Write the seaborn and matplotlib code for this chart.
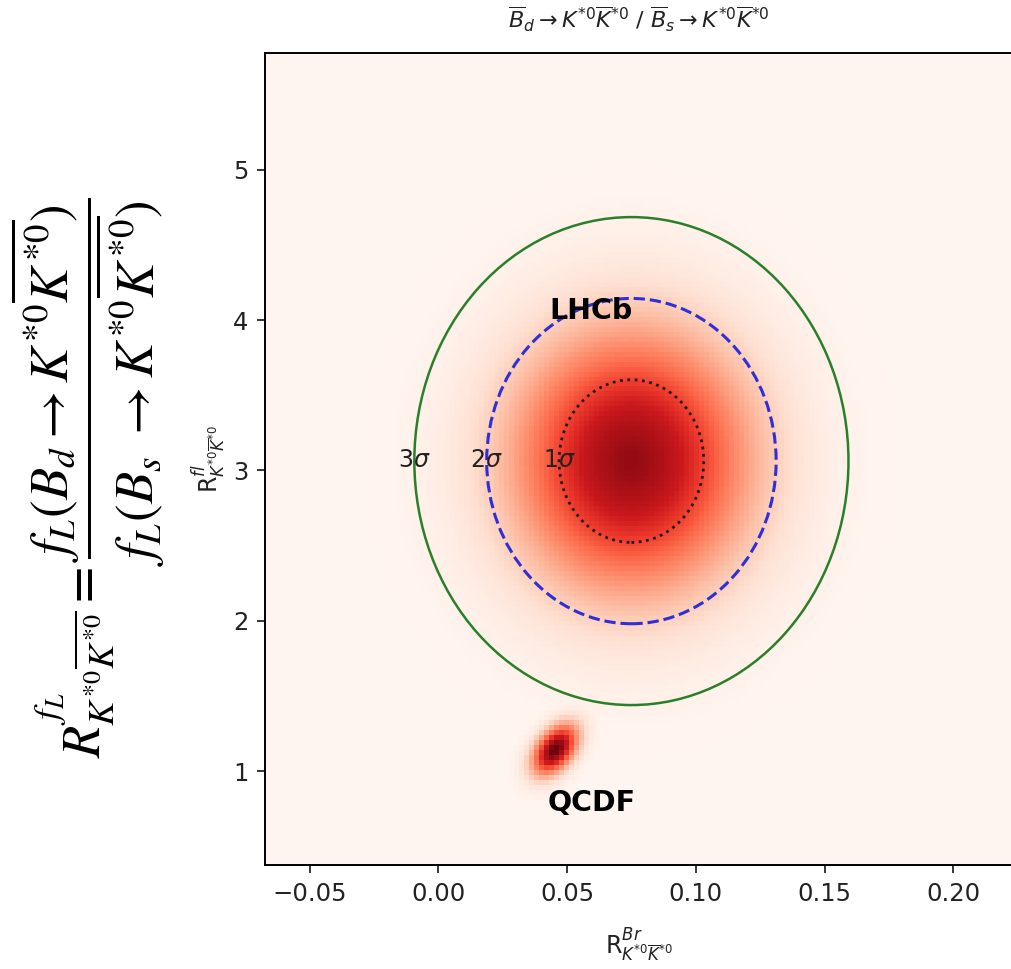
import numpy as np
import pandas as pd
import matplotlib
matplotlib.use("Agg")
import matplotlib.pyplot as plt
from matplotlib.patches import Ellipse
import seaborn as sns

# ---------------- data ----------------
# Gaussian-like probability blobs (LHCb measurement, QCDF prediction)
blob_names = ["LHCb", "QCDF"]
blob_center_x = [0.0750, 0.0455]
blob_center_y = [3.062, 1.140]
blob_sigma_x = [0.0315, 0.0060]
blob_sigma_y = [0.600, 0.115]
blob_rho = [0.0, 0.45]
blob_peak = [0.90, 1.0]

# sigma contour levels around the LHCb measurement
ellipse_center = (0.0750, 3.062)
ellipse_sigma_x = 0.0281
ellipse_sigma_y = 0.541
sigma_levels = [1, 2, 3]
sigma_labels = ["1$\\sigma$", "2$\\sigma$", "3$\\sigma$"]

# blob name label positions
name_label_x = [0.0592, 0.0596]
name_label_y = [4.06, 0.79]

x_ticks = [-0.05, 0.00, 0.05, 0.10, 0.15, 0.20]
y_ticks = [1, 2, 3, 4, 5]
x_limits = (-0.0673, 0.2232)
y_limits = (0.375, 5.78)

# ---------------- style ----------------
sns.set_theme(style="ticks")
plt.rcParams.update({
    "font.family": ["DejaVu Sans"],
    "axes.edgecolor": "black",
    "axes.linewidth": 1.4,
    "xtick.color": "black",
    "ytick.color": "black",
    "xtick.labelcolor": "#222222",
    "ytick.labelcolor": "#222222",
    "xtick.major.size": 6,
    "ytick.major.size": 6,
    "xtick.major.width": 1.1,
    "ytick.major.width": 1.1,
    "xtick.major.pad": 6,
    "ytick.major.pad": 6,
    "xtick.labelsize": 17.5,
    "ytick.labelsize": 17.5,
})

fig = plt.figure(figsize=(10.11, 9.69), dpi=100)
fig.patch.set_facecolor("white")
ax = fig.add_axes([265 / 1011, 1 - 865 / 969, (1013 - 265) / 1011, (865 - 52.5) / 969])

# ---------------- density grid built from the blob parameters ----------------
nx, ny = 150, 163
xe = np.linspace(x_limits[0], x_limits[1], nx + 1)
ye = np.linspace(y_limits[0], y_limits[1], ny + 1)
xc = 0.5 * (xe[:-1] + xe[1:])
yc = 0.5 * (ye[:-1] + ye[1:])
GX, GY = np.meshgrid(xc, yc, indexing="ij")
density = np.zeros_like(GX)
for cx, cy, sx, sy, r, pk in zip(blob_center_x, blob_center_y, blob_sigma_x,
                                 blob_sigma_y, blob_rho, blob_peak):
    dx = (GX - cx) / sx
    dy = (GY - cy) / sy
    q = (dx ** 2 - 2 * r * dx * dy + dy ** 2) / (1 - r ** 2)
    density = np.maximum(density, pk * np.exp(-0.5 * q))
density = density + 1e-6

df = pd.DataFrame({"x": GX.ravel(), "y": GY.ravel(), "w": density.ravel()})
ax.set_facecolor(plt.get_cmap("Reds")(0.0))
sns.histplot(data=df, x="x", y="y", weights="w", bins=(nx, ny),
             binrange=(x_limits, y_limits), cmap="Reds", vmin=0, ax=ax)

# ---------------- sigma ellipses ----------------
styles = {1: dict(ls=":", color="#1a1a1a", lw=2.0),
          2: dict(ls="--", color="#2f2fd6", lw=2.2),
          3: dict(ls="-", color="#2a7f2a", lw=1.8)}
cx0, cy0 = ellipse_center
for k, lab in zip(sigma_levels, sigma_labels):
    st = styles[k]
    e = Ellipse((cx0, cy0), width=2 * k * ellipse_sigma_x,
                height=2 * k * ellipse_sigma_y, fill=False,
                linestyle=st["ls"], edgecolor=st["color"], linewidth=st["lw"])
    ax.add_patch(e)
    ax.text(cx0 - k * ellipse_sigma_x, cy0 + 0.01, lab, ha="center", va="center",
            fontsize=17, color="#222222")

for name, lx, ly in zip(blob_names, name_label_x, name_label_y):
    ax.text(lx, ly, name, ha="center", va="center", fontsize=20.5,
            fontweight="bold", color="black")

ax.set_xlim(*x_limits)
ax.set_ylim(*y_limits)
ax.set_xticks(x_ticks)
ax.set_yticks(y_ticks)
ax.set_xticklabels([f"{v:.2f}".replace("-", "\u2212") for v in x_ticks])
ax.set_yticklabels([str(v) for v in y_ticks])
for s in ["top", "right", "left", "bottom"]:
    ax.spines[s].set_visible(True)

ax.set_xlabel(r"R$^{Br}_{K^{*0}\overline{K}^{*0}}$", fontsize=17, color="#222222")
ax.set_ylabel(r"R$^{fl}_{K^{*0}\overline{K}^{*0}}$", fontsize=17, color="#222222")
ax.xaxis.set_label_coords(0.5, -0.076)
ax.yaxis.set_label_coords(-0.05, 0.5)

ax.set_title(r"$\overline{B}_d\to K^{*0}\overline{K}^{*0}$ / $\overline{B}_s\to K^{*0}\overline{K}^{*0}$",
             fontsize=16, color="#222222", pad=17)

# big formula on the left, rotated
fig.text(88 / 1011, 1 - 478 / 969,
         r"$R^{f_L}_{K^{*0}\overline{K^{*0}}} = \dfrac{f_L(B_d \rightarrow K^{*0}\overline{K^{*0}})}{f_L(B_s\ \rightarrow K^{*0}\overline{K^{*0}})}$",
         rotation=90, ha="center", va="center", fontsize=38, color="black",
         math_fontfamily="stix")

fig.savefig("out.png", dpi=100, facecolor="white")
